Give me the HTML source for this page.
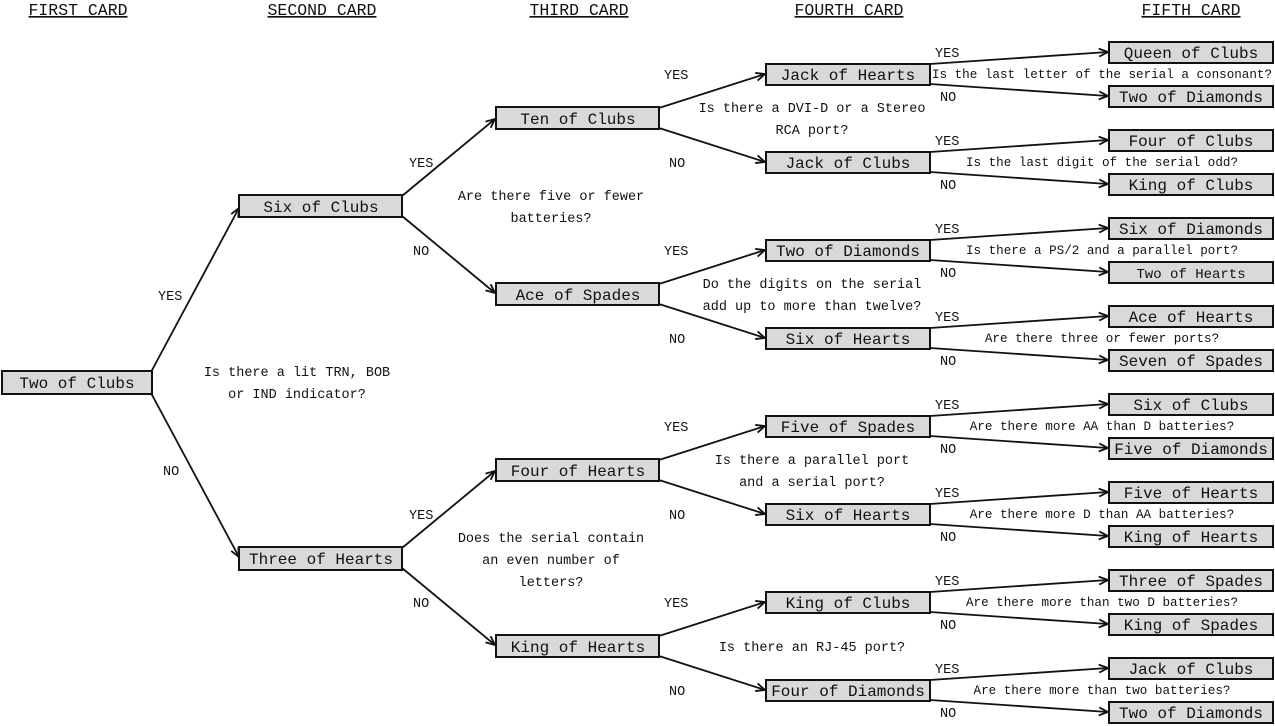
<!DOCTYPE html>
<html><head><meta charset="utf-8"><style>
html,body{margin:0;padding:0;background:#fff;}
svg{display:block;}
text{font-family:"Liberation Mono",monospace;fill:#111;}
.h{font-size:16.5px;text-decoration:underline;}
.n{font-size:16px;}
.q{font-size:12.6px;}
.q2{font-size:13.5px;}
.l{font-size:13.5px;}
rect{fill:#d9d9d9;stroke:#111;stroke-width:2;}
line{stroke:#111;stroke-width:1.8;marker-end:url(#a);}
</style></head><body>
<svg width="1275" height="726" viewBox="0 0 1275 726">
<defs><marker id="a" markerWidth="12" markerHeight="10" refX="10" refY="5" orient="auto" markerUnits="userSpaceOnUse"><path d="M1,1 L10,5 L1,9" fill="none" stroke="#111" stroke-width="1.8"/></marker></defs>
<g text-anchor="middle">
<text class="h" x="78" y="15">FIRST CARD</text>
<text class="h" x="322" y="15">SECOND CARD</text>
<text class="h" x="579" y="15">THIRD CARD</text>
<text class="h" x="849" y="15">FOURTH CARD</text>
<text class="h" x="1191" y="15">FIFTH CARD</text>
</g>
<line x1="151" y1="372" x2="239" y2="208"/>
<line x1="151" y1="393" x2="239" y2="557"/>
<line x1="402" y1="196" x2="495" y2="119"/>
<line x1="402" y1="216" x2="495" y2="293"/>
<line x1="402" y1="548" x2="495" y2="471"/>
<line x1="402" y1="568" x2="495" y2="645"/>
<g>
<line x1="659" y1="108" x2="765" y2="74"/>
<line x1="659" y1="128" x2="765" y2="162"/>
<line x1="659" y1="284" x2="765" y2="250"/>
<line x1="659" y1="304" x2="765" y2="338"/>
<line x1="659" y1="460" x2="765" y2="426"/>
<line x1="659" y1="480" x2="765" y2="514"/>
<line x1="659" y1="636" x2="765" y2="602"/>
<line x1="659" y1="656" x2="765" y2="690"/>
</g>
<g>
<line x1="930" y1="64" x2="1108" y2="52"/><line x1="930" y1="84" x2="1108" y2="96"/>
<line x1="930" y1="152" x2="1108" y2="140"/><line x1="930" y1="172" x2="1108" y2="184"/>
<line x1="930" y1="240" x2="1108" y2="228"/><line x1="930" y1="260" x2="1108" y2="272"/>
<line x1="930" y1="328" x2="1108" y2="316"/><line x1="930" y1="348" x2="1108" y2="360"/>
<line x1="930" y1="416" x2="1108" y2="404"/><line x1="930" y1="436" x2="1108" y2="448"/>
<line x1="930" y1="504" x2="1108" y2="492"/><line x1="930" y1="524" x2="1108" y2="536"/>
<line x1="930" y1="592" x2="1108" y2="580"/><line x1="930" y1="612" x2="1108" y2="624"/>
<line x1="930" y1="680" x2="1108" y2="668"/><line x1="930" y1="700" x2="1108" y2="712"/>
</g>
<rect x="2" y="371" width="150" height="23"/>
<rect x="239" y="195" width="163" height="22"/>
<rect x="239" y="547" width="163" height="23"/>
<rect x="496" y="107" width="163" height="22"/>
<rect x="496" y="283" width="163" height="22"/>
<rect x="496" y="459" width="163" height="22"/>
<rect x="496" y="635" width="163" height="22"/>
<g>
<rect x="766" y="64" width="164" height="21"/><rect x="766" y="152" width="164" height="21"/>
<rect x="766" y="240" width="164" height="21"/><rect x="766" y="328" width="164" height="21"/>
<rect x="766" y="416" width="164" height="21"/><rect x="766" y="504" width="164" height="21"/>
<rect x="766" y="592" width="164" height="21"/><rect x="766" y="680" width="164" height="21"/>
</g>
<g>
<rect x="1109" y="42" width="164" height="21"/><rect x="1109" y="86" width="164" height="21"/>
<rect x="1109" y="130" width="164" height="21"/><rect x="1109" y="174" width="164" height="21"/>
<rect x="1109" y="218" width="164" height="21"/><rect x="1109" y="262" width="164" height="21"/>
<rect x="1109" y="306" width="164" height="21"/><rect x="1109" y="350" width="164" height="21"/>
<rect x="1109" y="394" width="164" height="21"/><rect x="1109" y="438" width="164" height="21"/>
<rect x="1109" y="482" width="164" height="21"/><rect x="1109" y="526" width="164" height="21"/>
<rect x="1109" y="570" width="164" height="21"/><rect x="1109" y="614" width="164" height="21"/>
<rect x="1109" y="658" width="164" height="21"/><rect x="1109" y="702" width="164" height="21"/>
</g>
<g text-anchor="middle">
<text class="n" x="77" y="388">Two of Clubs</text>
<text class="n" x="321" y="212">Six of Clubs</text>
<text class="n" x="321" y="564">Three of Hearts</text>
<text class="n" x="578" y="124">Ten of Clubs</text>
<text class="n" x="578" y="300">Ace of Spades</text>
<text class="n" x="578" y="476">Four of Hearts</text>
<text class="n" x="578" y="652">King of Hearts</text>
<text class="n" x="848" y="80">Jack of Hearts</text>
<text class="n" x="848" y="168">Jack of Clubs</text>
<text class="n" x="848" y="256">Two of Diamonds</text>
<text class="n" x="848" y="344">Six of Hearts</text>
<text class="n" x="848" y="432">Five of Spades</text>
<text class="n" x="848" y="520">Six of Hearts</text>
<text class="n" x="848" y="608">King of Clubs</text>
<text class="n" x="848" y="696">Four of Diamonds</text>
<text class="n" x="1191" y="58">Queen of Clubs</text>
<text class="n" x="1191" y="102">Two of Diamonds</text>
<text class="n" x="1191" y="146">Four of Clubs</text>
<text class="n" x="1191" y="190">King of Clubs</text>
<text class="n" x="1191" y="234">Six of Diamonds</text>
<text class="n" x="1191" y="278" style="font-size:14px">Two of Hearts</text>
<text class="n" x="1191" y="322">Ace of Hearts</text>
<text class="n" x="1191" y="366">Seven of Spades</text>
<text class="n" x="1191" y="410">Six of Clubs</text>
<text class="n" x="1191" y="454">Five of Diamonds</text>
<text class="n" x="1191" y="498">Five of Hearts</text>
<text class="n" x="1191" y="542">King of Hearts</text>
<text class="n" x="1191" y="586">Three of Spades</text>
<text class="n" x="1191" y="630">King of Spades</text>
<text class="n" x="1191" y="674">Jack of Clubs</text>
<text class="n" x="1191" y="718">Two of Diamonds</text>
</g>
<g text-anchor="middle">
<text class="q2" x="297" y="376">Is there a lit TRN, BOB</text>
<text class="q2" x="297" y="398">or IND indicator?</text>
<text class="q2" x="551" y="200">Are there five or fewer</text>
<text class="q2" x="551" y="222">batteries?</text>
<text class="q2" x="551" y="542">Does the serial contain</text>
<text class="q2" x="551" y="564">an even number of</text>
<text class="q2" x="551" y="586">letters?</text>
<text class="q2" x="812" y="112">Is there a DVI-D or a Stereo</text>
<text class="q2" x="812" y="134">RCA port?</text>
<text class="q2" x="812" y="288">Do the digits on the serial</text>
<text class="q2" x="812" y="310">add up to more than twelve?</text>
<text class="q2" x="812" y="464">Is there a parallel port</text>
<text class="q2" x="812" y="486">and a serial port?</text>
<text class="q2" x="812" y="651">Is there an RJ-45 port?</text>
<text class="q" x="1102" y="78">Is the last letter of the serial a consonant?</text>
<text class="q" x="1102" y="166">Is the last digit of the serial odd?</text>
<text class="q" x="1102" y="254">Is there a PS/2 and a parallel port?</text>
<text class="q" x="1102" y="342">Are there three or fewer ports?</text>
<text class="q" x="1102" y="430">Are there more AA than D batteries?</text>
<text class="q" x="1102" y="518">Are there more D than AA batteries?</text>
<text class="q" x="1102" y="606">Are there more than two D batteries?</text>
<text class="q" x="1102" y="694">Are there more than two batteries?</text>
</g>
<g>
<text class="l" x="158" y="300">YES</text>
<text class="l" x="163" y="475">NO</text>
<text class="l" x="409" y="167">YES</text>
<text class="l" x="413" y="255">NO</text>
<text class="l" x="409" y="519">YES</text>
<text class="l" x="413" y="607">NO</text>
<text class="l" x="664" y="79">YES</text><text class="l" x="669" y="167">NO</text>
<text class="l" x="664" y="255">YES</text><text class="l" x="669" y="343">NO</text>
<text class="l" x="664" y="431">YES</text><text class="l" x="669" y="519">NO</text>
<text class="l" x="664" y="607">YES</text><text class="l" x="669" y="695">NO</text>
<text class="l" x="935" y="57">YES</text><text class="l" x="940" y="101">NO</text>
<text class="l" x="935" y="145">YES</text><text class="l" x="940" y="189">NO</text>
<text class="l" x="935" y="233">YES</text><text class="l" x="940" y="277">NO</text>
<text class="l" x="935" y="321">YES</text><text class="l" x="940" y="365">NO</text>
<text class="l" x="935" y="409">YES</text><text class="l" x="940" y="453">NO</text>
<text class="l" x="935" y="497">YES</text><text class="l" x="940" y="541">NO</text>
<text class="l" x="935" y="585">YES</text><text class="l" x="940" y="629">NO</text>
<text class="l" x="935" y="673">YES</text><text class="l" x="940" y="717">NO</text>
</g>
</svg>
</body></html>
